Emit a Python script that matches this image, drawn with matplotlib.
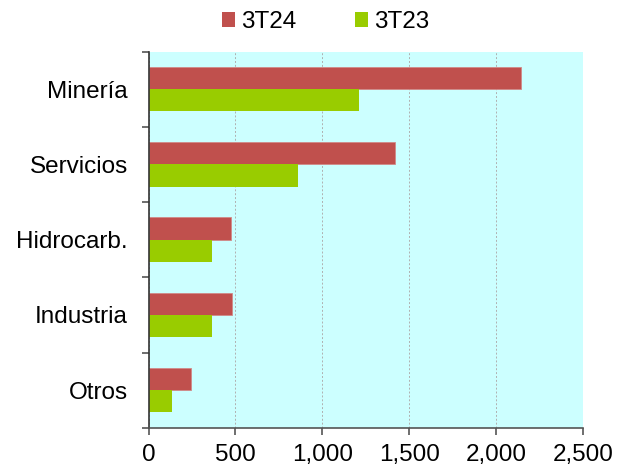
import numpy as np
import matplotlib.pyplot as plt
from matplotlib.patches import Patch

plt.rcParams['font.family'] = ['Liberation Sans', 'DejaVu Sans']

# Sector values
sectores = ["Minería", "Servicios", "Hidrocarb.", "Industria", "Otros"]
valores_3t24 = [2145, 1417, 472, 480, 246]
valores_3t23 = [1213, 862, 363, 363, 136]
series = ["3T24", "3T23"]
xticks = [0, 500, 1000, 1500, 2000, 2500]

color_24 = "#C0504D"
color_23 = "#99CC00"
fs = 17.5

fig = plt.figure(figsize=(6.3, 4.69), dpi=100)
ax = fig.add_axes([0.236, 0.088, 0.689, 0.802])
ax.set_facecolor("#CCFFFF")

y = np.arange(len(sectores))
h = 0.296
ax.barh(y - h / 2, valores_3t24, height=h, color=color_24, edgecolor="#D08A88", linewidth=0.6)
ax.barh(y + h / 2, valores_3t23, height=h, color=color_23, linewidth=0)

ax.set_ylim(len(sectores) - 0.5, -0.5)
ax.set_xlim(0, 2500)

# Category labels at centres, tick marks at the boundaries
ax.set_yticks(y)
ax.set_yticklabels(sectores, fontsize=fs)
ax.tick_params(axis="y", which="major", length=0, pad=15)
ax.set_yticks(np.arange(-0.5, len(sectores) + 0.5, 1), minor=True)
ax.tick_params(axis="y", which="minor", length=5, width=1.2, color="#555555", direction="out")

ax.set_xticks(xticks)
ax.set_xticklabels([f"{v:,}" for v in xticks], fontsize=fs)
ax.tick_params(axis="x", length=5, width=1.2, color="#555555", direction="out", pad=7)

ax.grid(axis="x", linestyle=(0, (2, 2)), color="#B0B0B0", linewidth=0.7)
ax.set_axisbelow(True)

for s in ["top", "right"]:
    ax.spines[s].set_visible(False)
ax.spines["left"].set_color("#333333")
ax.spines["bottom"].set_color("#555555")
ax.spines["left"].set_linewidth(1.2)
ax.spines["bottom"].set_linewidth(1.2)

handles = [Patch(facecolor=color_24), Patch(facecolor=color_23)]
fig.legend(handles, series, loc="center", bbox_to_anchor=(0.517, 0.953), ncol=2,
           frameon=False, fontsize=fs, handlelength=0.55, handleheight=0.55,
           handletextpad=0.25, columnspacing=2.4)

fig.savefig("out.png", dpi=100)
